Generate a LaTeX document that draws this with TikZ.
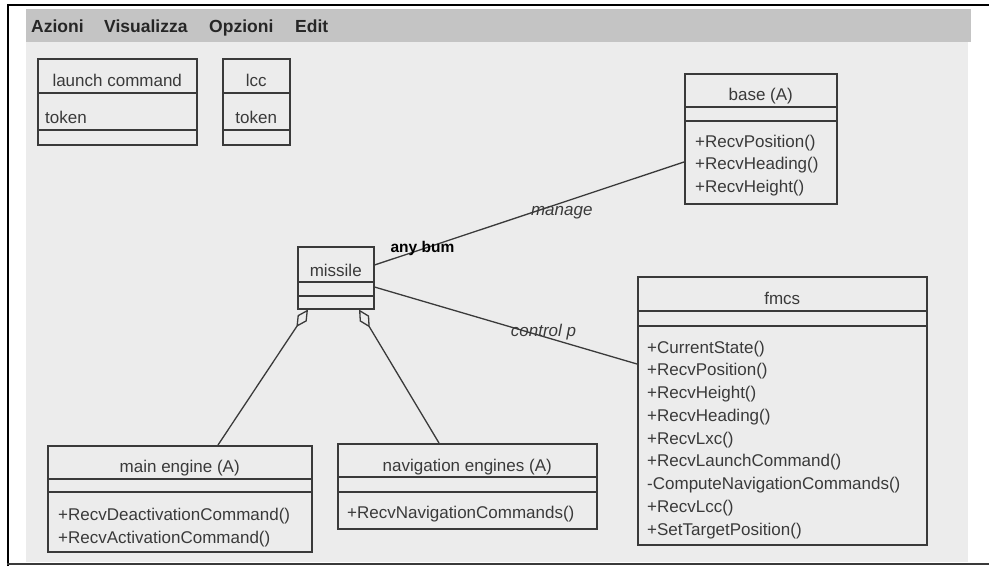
\documentclass[tikz,border=0pt]{standalone}
\usepackage{fontspec}
\setmainfont{Liberation Sans}
\usetikzlibrary{arrows.meta}
\definecolor{canvas}{HTML}{ECECEC}
\definecolor{menubar}{HTML}{C4C4C4}
\definecolor{ink}{HTML}{3A3A3A}
\newcommand{\fs}{\fontsize{17}{22.6}\selectfont}
% horizontal compartment line inside a class box
\newcommand{\compart}[2]{\draw[sep] ([yshift=-#2pt]#1.north west) -- ([yshift=-#2pt]#1.north east);}
\tikzset{
  cls/.style={draw=ink, line width=1.5pt, fill=canvas, inner sep=0pt, anchor=north west},
  sep/.style={draw=ink, line width=1.5pt},
  ttl/.style={font=\fs, text=ink, inner sep=0pt, anchor=base},
  mth/.style={font=\fs, text=ink, inner sep=0pt, anchor=base west},
  assoc/.style={draw=ink, line width=1.3pt},
  aggr/.style={assoc, {Diamond[open,length=21pt,width=11pt]}-},
  menu/.style={font=\fontsize{17.5}{20}\selectfont\bfseries, text=black!85, inner sep=0pt, anchor=base west},
  role/.style={font=\fs\itshape, text=ink, inner sep=0pt},
  cardlbl/.style={font=\fontsize{15.5}{18}\selectfont\bfseries, text=black, inner sep=0pt},
}
\begin{document}
\begin{tikzpicture}[x=1pt,y=-1pt]
\useasboundingbox (0,0) rectangle (989,566);
% window
\fill[white] (0,0) rectangle (989,566);
\fill[canvas] (26,42) rectangle (968,562);
\fill[menubar] (26,9) rectangle (971,42);
\draw[line width=2.5pt] (8,566) -- (8,5) -- (989,5);
\draw[ink, line width=1.5pt] (7,564) -- (989,564);
\node[menu] (azioni) at (31,32) {Azioni};
\node[menu] (visualizza) at (104,32) {Visualizza};
\node[menu] (opzioni) at (209,32) {Opzioni};
\node[menu] (edit) at (295,32) {Edit};

% classes
\node[cls, minimum width=159pt, minimum height=86pt] (launch) at (37,58) {};
\compart{launch}{35}\compart{launch}{72}
\node[ttl] (launch-t) at ([yshift=-28pt]launch.north) {launch command};
\node[mth] (launch-a) at ([xshift=8pt,yshift=-65pt]launch.north west) {token};

\node[cls, minimum width=67pt, minimum height=86pt] (lcc) at (222,58) {};
\compart{lcc}{35}\compart{lcc}{72}
\node[ttl] (lcc-t) at ([yshift=-28pt]lcc.north) {lcc};
\node[ttl] (lcc-a) at ([yshift=-65pt]lcc.north) {token};

\node[cls, minimum width=152pt, minimum height=130pt] (base) at (684,73) {};
\compart{base}{34}\compart{base}{48}
\node[ttl] (base-t) at ([yshift=-27pt]base.north) {base (A)};
\foreach \m [count=\i from 0] in {+RecvPosition(), +RecvHeading(), +RecvHeight()}
  \node[mth] (base-m\i) at ([xshift=11pt,yshift={-74-22.5*\i}]base.north west) {\m};

\node[cls, minimum width=76pt, minimum height=62pt] (missile) at (297,246) {};
\compart{missile}{36}\compart{missile}{50}
\node[ttl] (missile-t) at ([yshift=-30pt]missile.north) {missile};

\node[cls, minimum width=289pt, minimum height=268pt] (fmcs) at (637,276) {};
\compart{fmcs}{35}\compart{fmcs}{50}
\node[ttl] (fmcs-t) at ([yshift=-28pt]fmcs.north) {fmcs};
\foreach \m [count=\i from 0] in {+CurrentState(), +RecvPosition(), +RecvHeight(),
    +RecvHeading(), +RecvLxc(), +RecvLaunchCommand(), -ComputeNavigationCommands(),
    +RecvLcc(), +SetTargetPosition()}
  \node[mth] (fmcs-m\i) at ([xshift=10pt,yshift={-77-22.75*\i}]fmcs.north west) {\m};

\node[cls, minimum width=264pt, minimum height=106pt] (main) at (47,445) {};
\compart{main}{34}\compart{main}{47}
\node[ttl] (main-t) at ([yshift=-27pt]main.north) {main engine (A)};
\foreach \m [count=\i from 0] in {+RecvDeactivationCommand(), +RecvActivationCommand()}
  \node[mth] (main-m\i) at ([xshift=11pt,yshift={-75-23*\i}]main.north west) {\m};

\node[cls, minimum width=259pt, minimum height=85pt] (nav) at (337,443) {};
\compart{nav}{34}\compart{nav}{49}
\node[ttl] (nav-t) at ([yshift=-28pt]nav.north) {navigation engines (A)};
\node[mth] (nav-m0) at ([xshift=10pt,yshift=-75pt]nav.north west) {+RecvNavigationCommands()};

% associations
\draw[assoc] ([yshift=-19pt]missile.north east) -- ([yshift=-89pt]base.north west)
  node[cardlbl, pos=0.155, yshift=1pt] (card) {any bum}
  node[role, pos=0.605, yshift=-10pt] (manage) {manage};
\draw[assoc] ([yshift=-41pt]missile.north east) -- ([yshift=-88pt]fmcs.north west)
  node[role, pos=0.644, yshift=4pt] (control) {control p};
\draw[aggr] ([xshift=11pt]missile.south west) -- ([xshift=171pt]main.north west);
\draw[aggr] ([xshift=62pt]missile.south west) -- ([xshift=102pt]nav.north west);
\end{tikzpicture}
\end{document}
